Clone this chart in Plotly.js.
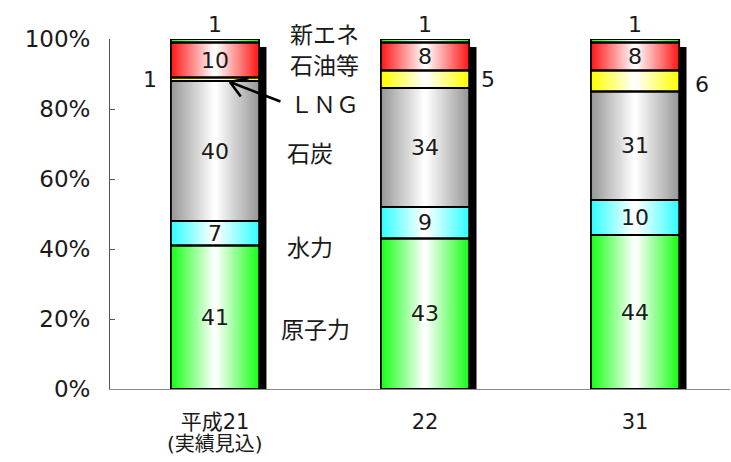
<!DOCTYPE html>
<html>
<head>
<meta charset="utf-8">
<script src="https://cdn.plot.ly/plotly-3.0.1.min.js"></script>
<style>
  html, body { margin: 0; padding: 0; background: #fff; }
  #chart { width: 731px; height: 462px; }
</style>
</head>
<body>
<div id="chart"></div>
<script>
// ---------------- data ----------------
const categories = ['平成21', '22', '31'];
const categoryNotes = ['(実績見込)', '', ''];
const sourceNames = ['原子力', '水力', '石炭', 'ＬＮＧ', '石油等', '新エネ'];
const nuclear   = [41, 43, 44];
const hydro     = [7, 9, 10];
const coal      = [40, 34, 31];
const lng       = [1, 5, 6];
const oil       = [10, 8, 8];
const newEnergy = [1, 1, 1];
const yTickValues = [0, 20, 40, 60, 80, 100];
const yTickLabels = ['0%', '20%', '40%', '60%', '80%', '100%'];

// ---------------- styles ----------------
const series = [nuclear, hydro, coal, lng, oil, newEnergy];
const edgeColors = ['#1aff1a', '#33ffff', '#999999', '#ffff00', '#ff1a1a', '#1aff1a'];
const BAR_W = 0.42;
const SHADOW_TOP = 97.7;
const LEVELS = 26;
const NUM_FONT = 'DejaVu Sans, Noto Sans CJK JP, sans-serif';
const JP_FONT = 'Noto Sans CJK JP, DejaVu Sans, sans-serif';
const TXT = '#1a1a1a';

function hexToRgb(h) {
  h = h.replace('#', '');
  return [parseInt(h.substr(0, 2), 16), parseInt(h.substr(2, 2), 16), parseInt(h.substr(4, 2), 16)];
}
function mix(hex, t) { // t=0 -> edge, t=1 -> white
  const c = hexToRgb(hex);
  return 'rgb(' + c.map(v => Math.round(v + (255 - v) * t)).join(',') + ')';
}

const xIdx = categories.map((_, i) => i);

// cumulative bases
const bases = [];
const cum = xIdx.map(() => 0);
series.forEach((s) => {
  bases.push(cum.slice());
  s.forEach((v, i) => { cum[i] += v; });
});

// flattened arrays for one-trace-per-level gradient
const fx = [], fBase = [], fY = [], fSeg = [];
series.forEach((s, si) => {
  s.forEach((v, i) => {
    fx.push(i); fBase.push(bases[si][i]); fY.push(v); fSeg.push(si);
  });
});

const traces = [];
// shadow
traces.push({
  type: 'bar', x: xIdx, y: xIdx.map(() => SHADOW_TOP), base: xIdx.map(() => 0),
  width: 0.345, offset: -0.1,
  marker: { color: '#000', line: { width: 0 } }, hoverinfo: 'skip', showlegend: false
});
// gradient levels
for (let k = 0; k < LEVELS; k++) {
  const w = BAR_W * (1 - k / LEVELS);
  const t = k / (LEVELS - 1);
  traces.push({
    type: 'bar', x: fx, y: fY, base: fBase,
    width: w, offset: -w / 2,
    marker: { color: fSeg.map(si => mix(edgeColors[si], t)), line: { width: 0 } },
    hoverinfo: 'skip', showlegend: false
  });
}
// outlines
traces.push({
  type: 'bar', x: fx, y: fY, base: fBase,
  width: BAR_W, offset: -BAR_W / 2,
  marker: { color: 'rgba(0,0,0,0)', line: { color: '#000', width: 1.8 } },
  hoverinfo: 'skip', showlegend: false
});

// ---------------- annotations ----------------
const annotations = [];
const numFont = { family: NUM_FONT, size: 22, color: TXT };
series.forEach((s, si) => {
  s.forEach((v, i) => {
    const mid = bases[si][i] + v / 2;
    if (si === 5) {
      annotations.push({ x: i, y: bases[si][i] + v, yanchor: 'bottom', yshift: 0,
        text: String(v), showarrow: false, font: numFont });
    } else if (si === 3) {
      if (i === 0) {
        annotations.push({ x: i - BAR_W / 2, y: mid, xanchor: 'right', xshift: -12,
          text: String(v), showarrow: false, font: numFont });
      } else {
        annotations.push({ x: i + 0.245, y: mid, xanchor: 'left', xshift: i === 1 ? 2 : 6, yshift: i === 2 ? -3 : 0,
          text: String(v), showarrow: false, font: numFont });
      }
    } else {
      annotations.push({ x: i, y: mid, text: String(v), showarrow: false, font: numFont });
    }
  });
});

// source name labels between first and second bars: [x, y, yshift]
const nameFont = { family: JP_FONT, size: 23, color: TXT };
const namePos = [
  [0.48, 17.5, 0], [0.45, 40.8, 0], [0.45, 67.7, 0], [0.52, 81.7, 0], [0.52, 92.8, 0], [0.52, 100, 6]
];
sourceNames.forEach((n, si) => {
  annotations.push({ x: namePos[si][0], y: namePos[si][1], yshift: namePos[si][2],
    text: n, showarrow: false, font: nameFont });
});

// second line of category labels
categoryNotes.forEach((n, i) => {
  if (n) annotations.push({ x: i, y: 0, yanchor: 'middle', yshift: -55, text: n, showarrow: false,
    font: { family: NUM_FONT, size: 20, color: TXT } });
});

// arrow from ＬＮＧ label to the first bar's LNG segment (open V)
const tip = { x: 0.071, y: 87.7 };
[[52, 20], [20, -4], [12, 16]].forEach(([ax, ay]) => {
  annotations.push({ x: tip.x, y: tip.y, ax: ax, ay: ay, axref: 'pixel', ayref: 'pixel',
    text: '', showarrow: true, arrowhead: 0, arrowwidth: 2.6, arrowcolor: '#000',
    standoff: 0, startstandoff: 0 });
});

const layout = {
  width: 731, height: 462,
  margin: { l: 110, r: 1, t: 39, b: 73, pad: 0 },
  paper_bgcolor: '#fff', plot_bgcolor: '#fff',
  barmode: 'overlay',
  showlegend: false,
  xaxis: {
    range: [-0.5, 2.452], tickvals: xIdx, ticktext: categories,
    showline: true, linecolor: '#8a8a8a', linewidth: 1,
    ticks: '', showgrid: false, zeroline: false,
    tickfont: { family: NUM_FONT, size: 21, color: TXT },
    ticklabelstandoff: 14, fixedrange: true
  },
  yaxis: {
    range: [0, 100], tickvals: yTickValues, ticktext: yTickLabels,
    showline: true, linecolor: '#555', linewidth: 1,
    ticks: 'inside', ticklen: 5, tickcolor: '#555',
    showgrid: false, zeroline: false,
    tickfont: { family: NUM_FONT, size: 23, color: TXT },
    ticklabelstandoff: 14, fixedrange: true
  },
  annotations: annotations
};

Plotly.newPlot('chart', traces, layout, { staticPlot: true, displayModeBar: false });
</script>
</body>
</html>
